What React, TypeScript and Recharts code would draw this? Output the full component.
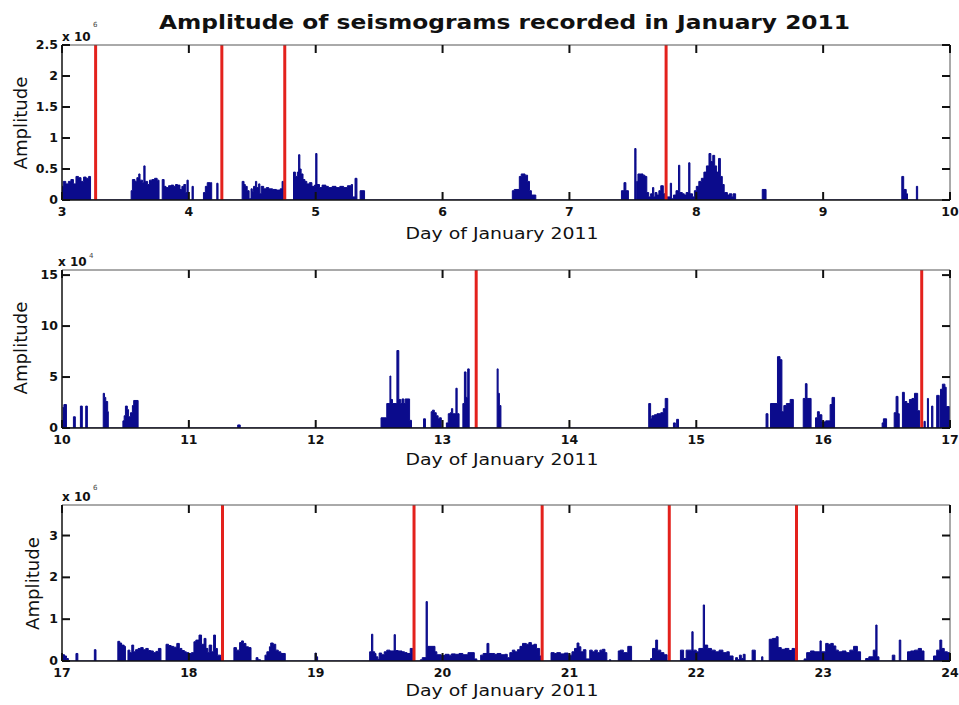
import React from 'react';
import { ComposedChart, Area, XAxis, YAxis, ReferenceLine } from 'recharts';

// amplitudes are in units of the exponent shown above each panel (x 10^6 / x 10^4)
// each pair is [day, amplitude]: the level holds until the next pair (step plot)

// panel 1: 3 - 10 January, x 10^6
const week1Days = [3, 4, 5, 6, 7, 8, 9, 10];
const week1Ticks = [0, 0.5, 1, 1.5, 2, 2.5];
const week1Events = [3.265, 4.26, 4.756, 7.762];
const week1Amp: [number, number][] = [
  [3.0, 0.22], [3.01, 0.3], [3.03, 0.26], [3.05, 0.3], [3.07, 0.33], [3.09, 0.26], [3.11, 0.38],
  [3.13, 0.36], [3.15, 0.3], [3.17, 0.37], [3.19, 0.35], [3.21, 0.38], [3.225, 0],
  [3.545, 0.15], [3.555, 0.33], [3.575, 0.3], [3.59, 0.36], [3.605, 0.42], [3.615, 0.32],
  [3.635, 0.28], [3.645, 0.55], [3.655, 0.3], [3.675, 0.25], [3.69, 0.32], [3.71, 0.33],
  [3.73, 0.35], [3.75, 0.32], [3.765, 0],
  [3.79, 0.33], [3.805, 0.22], [3.82, 0.2], [3.84, 0.23], [3.86, 0.24], [3.88, 0.22],
  [3.895, 0.25], [3.91, 0.24], [3.93, 0.17], [3.945, 0.22], [3.96, 0.25], [3.975, 0.12],
  [3.985, 0.32], [3.995, 0], [4.025, 0.22], [4.035, 0],
  [4.115, 0.12], [4.13, 0.22], [4.145, 0.28], [4.17, 0.28], [4.18, 0],
  [4.22, 0.27], [4.23, 0],
  [4.42, 0.3], [4.435, 0.25], [4.445, 0.22], [4.46, 0.15], [4.475, 0.02], [4.49, 0.18],
  [4.5, 0.14], [4.51, 0.22], [4.525, 0.3], [4.535, 0.2], [4.55, 0.26], [4.56, 0.1],
  [4.57, 0.22], [4.59, 0.18], [4.61, 0.2], [4.63, 0.18], [4.66, 0.17], [4.69, 0.16],
  [4.72, 0.18], [4.735, 0.3], [4.745, 0],
  [4.825, 0.45], [4.84, 0.38], [4.855, 0.45], [4.865, 0.73], [4.875, 0.5], [4.885, 0.42],
  [4.9, 0.33], [4.915, 0.3], [4.93, 0.26], [4.95, 0.28], [4.97, 0.22], [4.99, 0.24],
  [5.0, 0.75], [5.01, 0.25], [5.03, 0.2], [5.05, 0.24], [5.08, 0.22], [5.1, 0.2],
  [5.13, 0.22], [5.16, 0.2], [5.19, 0.22], [5.22, 0.2], [5.25, 0.23], [5.28, 0.25],
  [5.29, 0.05], [5.31, 0.35], [5.325, 0], [5.35, 0.15], [5.385, 0],
  [6.55, 0.15], [6.565, 0.17], [6.605, 0.38], [6.62, 0.42], [6.65, 0.4], [6.67, 0.3],
  [6.685, 0.15], [6.7, 0.08], [6.735, 0],
  [7.41, 0.15], [7.43, 0.28], [7.445, 0.15], [7.465, 0],
  [7.515, 0.83], [7.525, 0],
  [7.53, 0.3], [7.54, 0.42], [7.56, 0.42], [7.58, 0.4], [7.595, 0.38], [7.61, 0.12],
  [7.625, 0.05], [7.64, 0.1], [7.655, 0.2], [7.665, 0.05], [7.675, 0.12], [7.69, 0.08],
  [7.705, 0.15], [7.72, 0.23], [7.74, 0.1], [7.765, 0.05], [7.795, 0.27], [7.805, 0.02],
  [7.82, 0.08], [7.84, 0.15], [7.86, 0.56], [7.87, 0.12], [7.89, 0.1], [7.905, 0.08],
  [7.92, 0.12], [7.94, 0.6], [7.95, 0.1], [7.97, 0.05], [7.985, 0.15], [8.0, 0.22],
  [8.02, 0.3], [8.04, 0.35], [8.06, 0.45], [8.08, 0.55], [8.1, 0.75], [8.115, 0.62],
  [8.13, 0.72], [8.145, 0.55], [8.16, 0.45], [8.175, 0.67], [8.19, 0.38], [8.205, 0.25],
  [8.22, 0.12], [8.245, 0.08], [8.26, 0.1], [8.28, 0.05], [8.29, 0.1], [8.31, 0],
  [8.52, 0.17], [8.55, 0],
  [9.62, 0.38], [9.635, 0.17], [9.655, 0.1], [9.665, 0], [9.735, 0.22], [9.745, 0],
];

// panel 2: 10 - 17 January, x 10^4
const week2Days = [10, 11, 12, 13, 14, 15, 16, 17];
const week2Ticks = [0, 5, 10, 15];
const week2Events = [13.265, 16.777];
const week2Amp: [number, number][] = [
  [10.005, 2.0], [10.015, 2.3], [10.035, 0],
  [10.09, 1.1], [10.105, 0],
  [10.145, 2.15], [10.16, 0],
  [10.187, 2.15], [10.2, 0],
  [10.325, 3.4], [10.335, 3.0], [10.345, 2.6], [10.36, 1.6], [10.365, 0],
  [10.48, 0.7], [10.49, 1.2], [10.5, 2.15], [10.515, 1.8], [10.525, 1.1], [10.54, 1.5],
  [10.555, 2.2], [10.565, 2.7], [10.6, 0],
  [11.385, 0.3], [11.405, 0],
  [12.515, 1.0], [12.56, 2.4], [12.585, 5.1], [12.592, 2.8], [12.605, 2.4], [12.64, 7.6],
  [12.655, 2.8], [12.67, 2.4], [12.68, 2.85], [12.695, 2.4], [12.705, 2.85], [12.74, 0.75],
  [12.755, 0],
  [12.85, 0.9], [12.865, 0],
  [12.91, 1.6], [12.92, 1.75], [12.935, 1.5], [12.95, 1.2], [12.965, 0.9], [12.975, 1.0],
  [12.99, 0],
  [13.03, 0.5], [13.045, 1.4], [13.06, 1.5], [13.07, 1.9], [13.08, 1.4], [13.105, 3.9],
  [13.115, 1.4], [13.13, 0], [13.16, 2.4], [13.172, 5.5], [13.185, 3.0], [13.198, 5.8],
  [13.21, 0],
  [13.43, 5.8], [13.438, 3.4], [13.448, 2.2], [13.46, 0],
  [14.625, 2.4], [14.64, 0.9], [14.65, 1.2], [14.67, 1.3], [14.69, 1.4], [14.72, 1.5],
  [14.74, 1.9], [14.755, 2.9], [14.775, 0], [14.82, 0.5], [14.835, 0], [14.845, 0.85],
  [14.86, 0],
  [15.55, 1.4], [15.565, 0], [15.585, 2.4], [15.64, 7.0], [15.66, 6.7], [15.675, 1.6],
  [15.69, 2.2], [15.71, 2.4], [15.74, 2.8], [15.765, 0],
  [15.843, 2.9], [15.86, 4.35], [15.873, 2.9], [15.905, 0],
  [15.94, 1.0], [15.955, 1.6], [15.97, 1.3], [15.99, 0.6], [16.02, 0.7], [16.055, 2.3],
  [16.07, 3.0], [16.09, 0],
  [16.465, 0.5], [16.475, 0.9], [16.5, 0],
  [16.56, 1.5], [16.575, 3.1], [16.59, 1.4], [16.6, 0], [16.625, 3.5], [16.64, 2.6],
  [16.66, 2.4], [16.68, 2.8], [16.7, 2.9], [16.72, 3.4], [16.745, 1.7], [16.76, 0],
  [16.795, 0.65], [16.805, 0], [16.822, 2.9], [16.83, 0], [16.855, 2.15], [16.865, 0],
  [16.895, 3.2], [16.915, 0], [16.925, 3.8], [16.94, 4.3], [16.96, 4.0], [16.97, 2.1],
  [16.995, 0],
];

// panel 3: 17 - 24 January, x 10^6
const week3Days = [17, 18, 19, 20, 21, 22, 23, 24];
const week3Ticks = [0, 1, 2, 3];
const week3Events = [18.265, 19.775, 20.785, 21.787, 22.79];
const week3Amp: [number, number][] = [
  [17.0, 0.15], [17.02, 0.12], [17.035, 0.06], [17.05, 0],
  [17.11, 0.18], [17.125, 0],
  [17.255, 0.27], [17.268, 0],
  [17.44, 0.47], [17.455, 0.43], [17.47, 0.38], [17.49, 0.35], [17.5, 0],
  [17.52, 0.26], [17.535, 0.2], [17.55, 0.38], [17.565, 0.22], [17.58, 0.27], [17.6, 0.3],
  [17.62, 0.32], [17.64, 0.27], [17.66, 0.3], [17.68, 0.25], [17.7, 0.24], [17.72, 0.2],
  [17.74, 0.23], [17.76, 0.3], [17.78, 0],
  [17.82, 0.4], [17.84, 0.37], [17.86, 0.35], [17.88, 0.33], [17.905, 0.42], [17.925, 0.3],
  [17.945, 0.25], [17.965, 0.22], [17.98, 0.2], [18.0, 0.18], [18.02, 0.2], [18.04, 0.46],
  [18.055, 0.5], [18.08, 0.62], [18.1, 0.4], [18.12, 0.54], [18.135, 0.3], [18.15, 0.2],
  [18.16, 0.38], [18.18, 0.22], [18.195, 0.62], [18.21, 0.3], [18.225, 0.14], [18.25, 0.1],
  [18.26, 0],
  [18.355, 0.32], [18.375, 0.26], [18.4, 0.44], [18.415, 0.48], [18.43, 0.42], [18.45, 0.34],
  [18.47, 0.32], [18.49, 0],
  [18.53, 0.08], [18.545, 0.03], [18.565, 0],
  [18.6, 0.14], [18.615, 0.22], [18.635, 0.34], [18.645, 0.43], [18.665, 0.4], [18.685, 0.26],
  [18.705, 0.22], [18.725, 0.18], [18.76, 0],
  [18.995, 0.19], [19.005, 0.1], [19.015, 0],
  [19.425, 0.22], [19.44, 0.64], [19.45, 0.22], [19.465, 0.18], [19.475, 0.1], [19.49, 0.04],
  [19.5, 0.19], [19.52, 0.15], [19.54, 0.22], [19.56, 0.26], [19.585, 0.24], [19.618, 0.63],
  [19.628, 0.25], [19.65, 0.24], [19.68, 0.22], [19.7, 0.2], [19.72, 0.18], [19.745, 0.3],
  [19.765, 0],
  [19.825, 0.03], [19.84, 0.08], [19.87, 1.42], [19.88, 0.35], [19.94, 0.22], [19.955, 0.15],
  [19.99, 0.13], [20.02, 0.16], [20.05, 0.14], [20.07, 0.17], [20.1, 0.16], [20.13, 0.18],
  [20.16, 0.15], [20.2, 0.2], [20.25, 0.05], [20.27, 0], [20.3, 0.14], [20.32, 0.18],
  [20.35, 0.42], [20.365, 0.18], [20.39, 0.18], [20.41, 0.16], [20.43, 0.18], [20.46, 0.15],
  [20.49, 0.16], [20.51, 0.08], [20.53, 0.2], [20.55, 0.26], [20.57, 0.22], [20.59, 0.27],
  [20.61, 0.35], [20.63, 0.42], [20.66, 0.4], [20.68, 0.44], [20.7, 0.38], [20.72, 0.4],
  [20.74, 0.3], [20.765, 0.12], [20.78, 0],
  [20.855, 0.2], [20.88, 0.18], [20.9, 0.2], [20.93, 0.17], [20.96, 0.19], [20.99, 0.14],
  [21.02, 0.22], [21.04, 0.3], [21.06, 0.43], [21.075, 0.34], [21.09, 0.22], [21.11, 0.27],
  [21.13, 0.05], [21.16, 0.26], [21.18, 0.22], [21.2, 0.26], [21.22, 0.2], [21.24, 0.26],
  [21.26, 0.28], [21.28, 0.2], [21.295, 0], [21.315, 0.03], [21.325, 0], [21.385, 0.24],
  [21.4, 0.26], [21.425, 0.2], [21.46, 0.35], [21.49, 0],
  [21.64, 0.06], [21.655, 0.3], [21.68, 0.5], [21.695, 0.26], [21.72, 0.2], [21.745, 0.15],
  [21.77, 0],
  [21.875, 0.26], [21.9, 0.06], [21.92, 0.26], [21.965, 0.7], [21.975, 0.26], [22.0, 0.22],
  [22.02, 0.3], [22.055, 1.34], [22.065, 0.38], [22.09, 0.3], [22.12, 0.26], [22.15, 0.22],
  [22.18, 0.26], [22.21, 0.2], [22.24, 0.22], [22.26, 0.12], [22.29, 0],
  [22.31, 0.08], [22.325, 0.03], [22.34, 0.14], [22.355, 0.06], [22.37, 0.16], [22.385, 0],
  [22.44, 0.26], [22.465, 0],
  [22.515, 0.1], [22.525, 0],
  [22.575, 0.52], [22.6, 0.54], [22.63, 0.58], [22.645, 0.32], [22.67, 0.28], [22.7, 0.3],
  [22.73, 0.25], [22.755, 0.3], [22.775, 0],
  [22.85, 0.05], [22.87, 0.2], [22.9, 0.24], [22.93, 0.22], [22.975, 0.48], [22.985, 0.22],
  [23.02, 0.42], [23.04, 0.4], [23.06, 0.42], [23.08, 0.36], [23.1, 0.26], [23.12, 0.22],
  [23.15, 0.24], [23.18, 0.2], [23.21, 0.26], [23.24, 0.35], [23.27, 0.22], [23.295, 0],
  [23.335, 0.06], [23.36, 0.1], [23.395, 0.26], [23.415, 0.86], [23.425, 0.1], [23.44, 0],
  [23.545, 0.14], [23.565, 0],
  [23.6, 0.5], [23.612, 0],
  [23.665, 0.22], [23.69, 0.24], [23.72, 0.26], [23.75, 0.3], [23.775, 0.24], [23.795, 0],
  [23.87, 0.12], [23.895, 0.26], [23.92, 0.5], [23.935, 0.3], [23.955, 0.22], [23.98, 0.2],
  [24.0, 0],
];

const W = 959;
const H = 705;
const PLOT_LEFT = 62;
const PLOT_RIGHT = 950;
const PAD_TOP = 10;
const FONT = '"DejaVu Sans", "Liberation Sans", sans-serif';
const BLUE = '#0b0b8c';
const RED = '#e3211c';

interface PanelProps {
  plotTop: number;
  plotHeight: number;
  points: [number, number][];
  days: number[];
  ticks: number[];
  yMax: number;
  events: number[];
}

const Panel: React.FC<PanelProps> = ({ plotTop, plotHeight, points, days, ticks, yMax, events }) => {
  const rows = points.map(([day, amp]) => ({ day, amp }));
  const bottom = PAD_TOP + plotHeight;

  // matlab style: labels outside, short ticks pointing inwards on both sides
  const dayTick = (p: any) => (
    <g>
      <text x={p.x} y={bottom + 16} textAnchor="middle" fontFamily={FONT} fontWeight="bold" fontSize={12.5} fill="#111">
        {p.payload.value}
      </text>
      <line x1={p.x} x2={p.x} y1={bottom} y2={bottom - 8} stroke="#111" strokeWidth={2} />
      <line x1={p.x} x2={p.x} y1={PAD_TOP} y2={PAD_TOP + 8} stroke="#111" strokeWidth={2} />
    </g>
  );
  const ampTick = (p: any) => (
    <g>
      <text x={PLOT_LEFT - 4} y={p.y + 4} textAnchor="end" fontFamily={FONT} fontWeight="bold" fontSize={12.5} fill="#111">
        {p.payload.value}
      </text>
      <line x1={PLOT_LEFT} x2={PLOT_LEFT + 8} y1={p.y} y2={p.y} stroke="#111" strokeWidth={2} />
      <line x1={PLOT_RIGHT - 8} x2={PLOT_RIGHT} y1={p.y} y2={p.y} stroke="#111" strokeWidth={2} />
    </g>
  );

  return (
    <div style={{ position: 'absolute', left: 0, top: plotTop - PAD_TOP }}>
      <ComposedChart
        width={W}
        height={PAD_TOP + plotHeight + 30}
        data={rows}
        margin={{ top: PAD_TOP, right: W - PLOT_RIGHT, bottom: 0, left: PLOT_LEFT - 40 }}
      >
        <XAxis
          dataKey="day"
          type="number"
          domain={[days[0], days[days.length - 1]]}
          ticks={days}
          interval={0}
          allowDataOverflow
          height={30}
          axisLine={{ stroke: '#111', strokeWidth: 1.5 }}
          tickLine={false}
          tick={dayTick}
        />
        <YAxis
          type="number"
          domain={[0, yMax]}
          ticks={ticks}
          interval={0}
          allowDataOverflow
          width={40}
          axisLine={{ stroke: '#111', strokeWidth: 1.5 }}
          tickLine={false}
          tick={ampTick}
        />
        <Area
          type="stepAfter"
          dataKey="amp"
          stroke={BLUE}
          strokeWidth={1}
          fill={BLUE}
          fillOpacity={1}
          dot={false}
          activeDot={false}
          isAnimationActive={false}
        />
        {events.map((d) => (
          <ReferenceLine key={d} x={d} stroke={RED} strokeWidth={3} />
        ))}
        <ReferenceLine y={yMax} stroke="#555" strokeWidth={1} />
        <ReferenceLine x={days[days.length - 1]} stroke="#555" strokeWidth={1} />
      </ComposedChart>
    </div>
  );
};

const exponents = [
  { x: 62, y: 40.5, power: '6', py: 27 },
  { x: 58, y: 266, power: '4', py: 258 },
  { x: 62, y: 500.5, power: '6', py: 490 },
];
const ampLabels = [
  { x: 26.5, y: 123 },
  { x: 26.5, y: 348 },
  { x: 38.5, y: 583.5 },
];
const dayLabelY = [239, 465, 696];

export default function App() {
  return (
    <div style={{ position: 'absolute', left: 0, top: 0, width: W, height: H, background: '#fff', overflow: 'hidden' }}>
      <Panel plotTop={45} plotHeight={155} points={week1Amp} days={week1Days} ticks={week1Ticks} yMax={2.5} events={week1Events} />
      <Panel plotTop={270} plotHeight={158} points={week2Amp} days={week2Days} ticks={week2Ticks} yMax={15.5} events={week2Events} />
      <Panel plotTop={505} plotHeight={156} points={week3Amp} days={week3Days} ticks={week3Ticks} yMax={3.73} events={week3Events} />
      <svg width={W} height={H} style={{ position: 'absolute', left: 0, top: 0, pointerEvents: 'none' }}>
        <text x={504.5} y={29} textAnchor="middle" fontFamily={FONT} fontWeight="bold" fontSize={20} fill="#111" textLength={691} lengthAdjust="spacingAndGlyphs">
          Amplitude of seismograms recorded in January 2011
        </text>
        {exponents.map((e, i) => (
          <g key={i}>
            <text x={e.x} y={e.y} fontFamily={FONT} fontWeight="bold" fontSize={12} fill="#111">x 10</text>
            <text x={e.x + 31} y={e.py} fontFamily={FONT} fontSize={7} fill="#444">{e.power}</text>
          </g>
        ))}
        {ampLabels.map((l, i) => (
          <text key={i} transform={`translate(${l.x},${l.y}) rotate(-90)`} textAnchor="middle" fontFamily={FONT} fontSize={17} fill="#111" textLength={93} lengthAdjust="spacingAndGlyphs">
            Amplitude
          </text>
        ))}
        {dayLabelY.map((y, i) => (
          <text key={i} x={502} y={y} textAnchor="middle" fontFamily={FONT} fontSize={16} fill="#111" textLength={193} lengthAdjust="spacingAndGlyphs">
            Day of January 2011
          </text>
        ))}
      </svg>
    </div>
  );
}
